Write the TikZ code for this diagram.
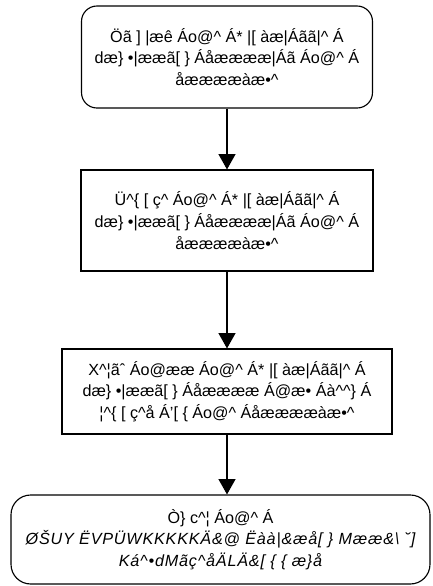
\documentclass[tikz,border=0pt]{standalone}
\usepackage{fontspec}
\setmainfont{Liberation Sans}
\usepackage{tikz}
\usetikzlibrary{arrows.meta,positioning}

\begin{document}
\begin{tikzpicture}[
  font=\fontsize{11.5}{15.5}\selectfont,
  box/.style={draw=black, line width=0.8pt, align=center, inner sep=0pt},
  term/.style={box, rounded corners=11pt},
  proc/.style={box},
  slant/.style={font=\fontsize{11.5}{15.5}\selectfont\addfontfeature{LetterSpace=5}\itshape},
  ar/.style={-{Triangle[length=3.8mm,width=4.2mm]}, draw=black, line width=0.8pt}]

\useasboundingbox (0,0) rectangle (10.825,-14.65);

% start
\node[term, minimum width=7.275cm, minimum height=2.55cm] (find) at (5.675,-1.425)
     {Öã ] |æê Áo@\textasciicircum\ Á* |[ àæ|Áãã|\textasciicircum\ Á\\
      dæ\} •|ææã[ \} Áåææææ|Áã Áo@\textasciicircum\ Á\\
      åææææàæ•\textasciicircum};

% remove step
\node[proc, minimum width=7.3cm, minimum height=2.525cm] (rem) at (5.675,-5.5125)
     {Ü\textasciicircum\{ [ ç\textasciicircum\ Áo@\textasciicircum\ Á* |[ àæ|Áãã|\textasciicircum\ Á\\
      dæ\} •|ææã[ \} Áåææææ|Áã Áo@\textasciicircum\ Á\\
      åææææàæ•\textasciicircum};

% check step
\node[proc, minimum width=8.25cm, minimum height=2.125cm] (chk) at (5.675,-9.7875)
     {X\textasciicircum¦ãˆ Áo@ææ Áo@\textasciicircum\ Á* |[ àæ|Áãã|\textasciicircum\ Á\\
      dæ\} •|ææã[ \} Áåææææ Á@æ• Áà\textasciicircum\textasciicircum\} Á\\
      ¦\textasciicircum\{ [ ç\textasciicircum å Á'[ \{ Áo@\textasciicircum\ Áåææææàæ•\textasciicircum};

% end
\node[term, rounded corners=14pt, minimum width=10.475cm, minimum height=2.225cm] (ent) at (5.5125,-13.4875)
     {Ò\} c\textasciicircum¦ Áo@\textasciicircum\ Á\\
      \addfontfeature{LetterSpace=5}\itshape ØŠUY ËVPÜWKKKKKÄ\&@ Ëàà|\&æå[ \} Mææ\&\textbackslash\ ˘]\\
      \addfontfeature{LetterSpace=5}\itshape Ká\textasciicircum•dMãç\textasciicircum åÄLÄ\&[ \{ \{ æ\}å};

\draw[ar] (find) -- (rem);
\draw[ar] (rem)  -- (chk);
\draw[ar] (chk.south) -- (chk.south |- ent.north);
\end{tikzpicture}
\end{document}
